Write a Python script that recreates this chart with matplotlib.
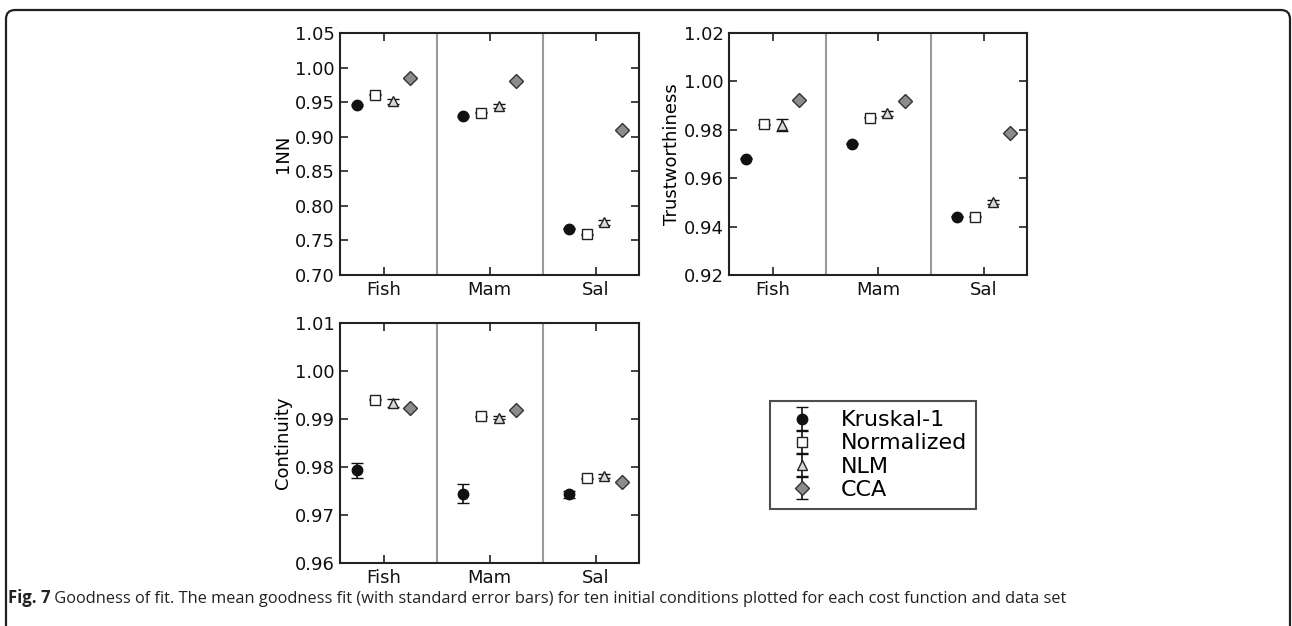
import matplotlib
matplotlib.use("Agg")
import matplotlib.pyplot as plt
from matplotlib.patches import FancyBboxPatch
import numpy as np

# Data sets and cost functions
datasets = ["Fish", "Mam", "Sal"]
methods = ["Kruskal-1", "Normalized", "NLM", "CCA"]

# Mean goodness of fit (rows: methods, columns: data sets)
nn_mean = [[0.946, 0.930, 0.767],
           [0.961, 0.935, 0.759],
           [0.951, 0.944, 0.776],
           [0.985, 0.980, 0.910]]
nn_err = [[0.001, 0.001, 0.001],
          [0.001, 0.001, 0.001],
          [0.004, 0.003, 0.003],
          [0.001, 0.001, 0.001]]

trust_mean = [[0.9680, 0.9742, 0.9441],
              [0.9822, 0.9850, 0.9440],
              [0.9820, 0.9869, 0.9500],
              [0.9924, 0.9921, 0.9785]]
trust_err = [[0.0002, 0.0002, 0.0002],
             [0.0002, 0.0002, 0.0002],
             [0.0025, 0.0010, 0.0008],
             [0.0002, 0.0002, 0.0002]]

cont_mean = [[0.9793, 0.9744, 0.9743],
             [0.9940, 0.9906, 0.9777],
             [0.9933, 0.9903, 0.9782],
             [0.9923, 0.9919, 0.9768]]
cont_err = [[0.0016, 0.0020, 0.0007],
            [0.0001, 0.0001, 0.0001],
            [0.0008, 0.0004, 0.0004],
            [0.0001, 0.0001, 0.0001]]

nn_ticks = [0.70, 0.75, 0.80, 0.85, 0.90, 0.95, 1.00, 1.05]
trust_ticks = [0.92, 0.94, 0.96, 0.98, 1.00, 1.02]
cont_ticks = [0.96, 0.97, 0.98, 0.99, 1.00, 1.01]

caption_bold = "Fig. 7"
caption_rest = (" Goodness of fit. The mean goodness fit (with standard error bars) "
                "for ten initial conditions plotted for each cost function and data set")

# Marker styles per method
styles = [dict(marker="o", mfc="#111111", mec="#111111", ms=7.5),
          dict(marker="s", mfc="white", mec="#222222", ms=7),
          dict(marker="^", mfc="#d8d8d8", mec="#222222", ms=7.5),
          dict(marker="D", mfc="#8c8c8c", mec="#333333", ms=7.5)]
offsets = [-0.25, -0.083, 0.083, 0.25]

W, H = 1292, 626
fig = plt.figure(figsize=(W / 100, H / 100), dpi=100)
fig.patch.set_facecolor("white")

# rounded frame around the figure panel (open towards the bottom edge)
top_px, bottom_px = 10, 660
frame = FancyBboxPatch((6 / W, 1 - bottom_px / H), (1290 - 6) / W,
                       (bottom_px - top_px) / H,
                       boxstyle="round,pad=0,rounding_size=0.007",
                       transform=fig.transFigure, fill=False,
                       edgecolor="#222222", linewidth=1.6, clip_on=False,
                       mutation_aspect=W / H)
fig.patches.append(frame)

plt.rcParams["font.family"] = ["DejaVu Sans"]


def make_axes(rect, means, errs, ylim, yticks, ylabel):
    ax = fig.add_axes(rect)
    x = np.arange(len(datasets))
    handles = []
    for i, m in enumerate(methods):
        st = styles[i]
        h = ax.errorbar(x + offsets[i], means[i], yerr=errs[i], fmt=st["marker"],
                        mfc=st["mfc"], mec=st["mec"], ms=st["ms"], mew=1.0,
                        ecolor="#111111", elinewidth=1.2, capsize=4, capthick=1.2,
                        label=m, zorder=3)
        handles.append(h)
    for s in (0.5, 1.5):
        ax.axvline(s, color="#9a9a9a", linewidth=1.5, zorder=1)
    ax.set_xlim(-0.415, 2.41)
    ax.set_ylim(*ylim)
    ax.set_xticks(x)
    ax.set_xticklabels(datasets)
    ax.set_yticks(yticks)
    ax.set_yticklabels(["%.2f" % t for t in yticks])
    ax.set_ylabel(ylabel, fontsize=13, labelpad=2)
    ax.tick_params(direction="in", top=True, right=True, length=6, width=1.2,
                   labelsize=13, color="#222222", labelcolor="#111111", pad=4)
    for sp in ax.spines.values():
        sp.set_linewidth(1.5)
        sp.set_color("#222222")
    return ax, handles


ax1, handles = make_axes([340 / W, 1 - 275 / H, 299 / W, 242 / H],
                         nn_mean, nn_err, (0.70, 1.05), nn_ticks, "1NN")
ax2, _ = make_axes([729 / W, 1 - 275 / H, 298 / W, 242 / H],
                   trust_mean, trust_err, (0.92, 1.02), trust_ticks, "Trustworthiness")
ax3, _ = make_axes([340 / W, 1 - 563 / H, 299 / W, 240 / H],
                   cont_mean, cont_err, (0.96, 1.01), cont_ticks, "Continuity")

leg = fig.legend(handles, methods, loc="upper left",
                 bbox_to_anchor=(770 / W, 1 - 401 / H), bbox_transform=fig.transFigure,
                 borderaxespad=0, fontsize=16, numpoints=1, fancybox=False,
                 frameon=True, handlelength=2.0, handletextpad=0.75,
                 borderpad=0.42, labelspacing=0.14, edgecolor="#222222")
leg.get_frame().set_linewidth(1.5)

# caption: bold figure number followed by regular text
cap_family = ["Open Sans"]
t1 = fig.text(8 / W, 1 - 603 / H, caption_bold, fontsize=12, fontweight="bold",
              family=cap_family, color="#222222", va="baseline")
fig.canvas.draw()
bb = t1.get_window_extent()
fig.text(bb.x1 / W, 1 - 603 / H, caption_rest, fontsize=11.8,
         family=cap_family, color="#222222", va="baseline")

fig.savefig("out.png", dpi=100)
